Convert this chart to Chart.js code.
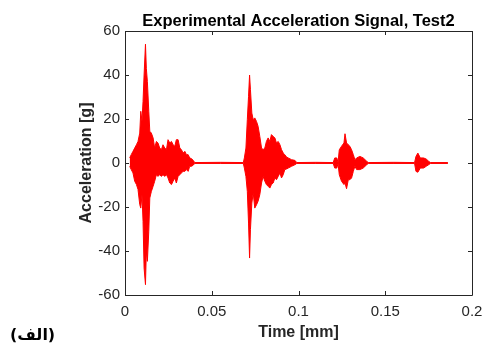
<!DOCTYPE html>
<html>
<head>
<meta charset="utf-8">
<script src="https://cdn.jsdelivr.net/npm/chart.js@4/dist/chart.umd.min.js"></script>
<style>
    html, body { margin: 0; padding: 0; background: #fff; }
    #wrap { position: relative; width: 485px; height: 343px; }
    #panel-label {
        position: absolute; left: 10px; top: 325px;
        font: bold 16px "DejaVu Sans", sans-serif; color: #000;
    }
</style>
</head>
<body>
<div id="wrap">
    <canvas id="chart-canvas" width="485" height="343"></canvas>
    <div id="panel-label">(الف)</div>
</div>
<script>
const sampleTimes = [
    0.0027, 0.0036, 0.0046, 0.0056, 0.0066, 0.0075, 0.0085, 0.0091, 0.0098, 0.0104,
    0.0110, 0.0118, 0.0123, 0.0129, 0.0137, 0.0143, 0.0152, 0.0162, 0.0171, 0.0181,
    0.0190, 0.0200, 0.0210, 0.0219, 0.0229, 0.0239, 0.0248, 0.0258, 0.0268, 0.0277,
    0.0287, 0.0296, 0.0306, 0.0316, 0.0325, 0.0335, 0.0345, 0.0354, 0.0364, 0.0373,
    0.0383, 0.0393, 0.0402, 0.0550, 0.0682,
    0.0688, 0.0697, 0.0705, 0.0712, 0.0718, 0.0723, 0.0731, 0.0739, 0.0748, 0.0758,
    0.0767, 0.0777, 0.0787, 0.0796, 0.0806, 0.0815, 0.0825, 0.0835, 0.0844, 0.0854,
    0.0864, 0.0873, 0.0883, 0.0893, 0.0902, 0.0912, 0.0921, 0.0931, 0.0941, 0.0960,
    0.0979, 0.0990, 0.1100, 0.1200,
    0.1209, 0.1221, 0.1228, 0.1235, 0.1248, 0.1262, 0.1268, 0.1277, 0.1287, 0.1296,
    0.1306, 0.1316, 0.1325, 0.1335, 0.1354, 0.1373, 0.1393, 0.1402, 0.1550, 0.1669,
    0.1677, 0.1688, 0.1702, 0.1721, 0.1736, 0.1750, 0.1760, 0.1861
]
const upperEnvelope = [
    2.3, 3.8, 5.3, 6.8, 8.3, 9.8, 13.6, 23.5, 19, 28,
    40, 54, 43, 37, 23.5, 14.4, 13.6, 11.4, 6.8, 9.8,
    9.1, 6.8, 6.1, 8.3, 6.8, 6.1, 10.6, 9.1, 9.8, 8.3,
    7.6, 10.6, 10.6, 6.8, 6.1, 4.5, 5.3, 3.8, 3.8, 2.3,
    2, 1.2, 0.2, 0.3, 0.2,
    2.3, 6.8, 19.7, 30.3, 40, 33.3, 22.7, 19.7, 20.5, 18.9,
    16.7, 12.1, 6.8, 6.1, 6.8, 9.8, 11.4, 9.8, 12.9, 12.1,
    11.4, 9.1, 9.8, 8.3, 6.1, 4.5, 3.8, 2.7, 2.3, 1.5,
    1.2, 0.2, 0.3, 0.2,
    2.3, 2.3, 0.2, 6, 7.6, 9.1, 13.3, 9.1, 8.3, 7.6,
    6, 3.8, 1.5, 2.3, 3, 2.3, 0.8, 0.2, 0.3, 0.2,
    3, 4.5, 2.3, 2.3, 1.8, 0.8, 0.2, 0.2
]
const lowerEnvelope = [
    -1.5, -3, -4.5, -8.3, -9.8, -12, -18.9, -20.5, -14.4, -26.5,
    -47.7, -55.3, -40, -44.7, -31, -15.9, -12.9, -10.6, -8.3, -5.3,
    -6.1, -5.3, -6.1, -5.3, -6.1, -5.3, -6.8, -9.1, -9.8, -8.3,
    -6.8, -9.1, -6.1, -5.3, -4.5, -3.8, -3.8, -3, -3.8, -1.5,
    -1.5, -1, -0.2, -0.2, -0.2,
    -2.3, -6.1, -12.9, -27.3, -43.2, -30.3, -18.2, -13.6, -20.5, -19,
    -17.4, -14.4, -9.1, -6.1, -8.3, -9.8, -10.6, -11.4, -9.8, -9.1,
    -6.8, -7.6, -6.1, -4.5, -6.8, -5.3, -3, -2.7, -2.3, -1.5,
    -0.8, -0.2, -0.2, -0.2,
    -2.3, -2.3, -0.2, -5.3, -8.3, -9.8, -9.1, -11.7, -7.6, -7.6,
    -6.8, -3.8, -1.5, -3, -3, -2.3, -0.8, -0.2, -0.2, -0.2,
    -3.8, -4.2, -2.3, -2.3, -1.5, -0.8, -0.2, -0.2
]
const xTickStep = 0.05
const yTickStep = 20

const axisColor = '#262626'
const fontFamily = '"Liberation Sans", Arial, sans-serif'

// MATLAB style box with ticks pointing inwards on all four sides
const boxTicks = {
    id: 'boxTicks',
    afterDraw(chart) {
        const { ctx, chartArea: a, scales: { x, y } } = chart
        const len = 4
        ctx.save()
        ctx.strokeStyle = axisColor
        ctx.lineWidth = 1
        ctx.beginPath()
        ctx.rect(Math.round(a.left) + 0.5, Math.round(a.top) + 0.5,
            Math.round(a.right - a.left), Math.round(a.bottom - a.top))
        x.ticks.forEach((t, i) => {
            const px = Math.round(x.getPixelForTick(i)) + 0.5
            ctx.moveTo(px, a.bottom)
            ctx.lineTo(px, a.bottom - len)
            ctx.moveTo(px, a.top)
            ctx.lineTo(px, a.top + len)
        })
        y.ticks.forEach((t, i) => {
            const py = Math.round(y.getPixelForTick(i)) + 0.5
            ctx.moveTo(a.left, py)
            ctx.lineTo(a.left + len, py)
            ctx.moveTo(a.right, py)
            ctx.lineTo(a.right - len, py)
        })
        ctx.stroke()
        ctx.restore()
    }
}

const upperData = sampleTimes.map((t, i) => ({ x: t, y: upperEnvelope[i] }))
const lowerData = sampleTimes.map((t, i) => ({ x: t, y: lowerEnvelope[i] }))

new Chart(document.getElementById('chart-canvas'), {
    type: 'line',
    data: {
        datasets: [
            {
                data: upperData,
                borderColor: '#ff0000',
                backgroundColor: '#ff0000',
                borderWidth: 1,
                pointRadius: 0,
                tension: 0,
                fill: '+1'
            },
            {
                data: lowerData,
                borderColor: '#ff0000',
                borderWidth: 1,
                pointRadius: 0,
                tension: 0,
                fill: false
            }
        ]
    },
    options: {
        responsive: false,
        animation: false,
        layout: { padding: { top: 0, right: 13, bottom: 0, left: 0 } },
        plugins: {
            legend: { display: false },
            tooltip: { enabled: false }
        },
        scales: {
            x: {
                type: 'linear',
                min: 0,
                max: 0.2,
                grid: { display: false, drawTicks: false },
                border: { display: false },
                ticks: {
                    stepSize: xTickStep,
                    maxRotation: 0,
                    padding: 8,
                    color: axisColor,
                    font: { family: fontFamily, size: 15 },
                    callback: value => String(+value.toFixed(2))
                },
                title: {
                    display: true,
                    text: 'Time [mm]',
                    color: axisColor,
                    font: { family: fontFamily, size: 16, weight: 'bold' },
                    padding: { top: 0, bottom: 0.5 }
                },
                afterFit: scale => {
                    scale.height = 48
                    scale.paddingLeft = 0
                    scale.paddingRight = 0
                }
            },
            // top axis only carries the plot title, centred over the axes box like MATLAB
            xTop: {
                type: 'linear',
                position: 'top',
                min: 0,
                max: 0.2,
                grid: { display: false, drawTicks: false },
                border: { display: false },
                ticks: { display: false },
                title: {
                    display: true,
                    text: 'Experimental Acceleration Signal, Test2',
                    color: '#000',
                    font: { family: fontFamily, size: 16.5, weight: 'bold' },
                    padding: { top: 11.1, bottom: 0 }
                },
                afterFit: scale => {
                    scale.height = 31
                    scale.paddingLeft = 0
                    scale.paddingRight = 0
                }
            },
            y: {
                min: -60,
                max: 60,
                grid: { display: false, drawTicks: false },
                border: { display: false },
                ticks: {
                    stepSize: yTickStep,
                    padding: 5,
                    color: axisColor,
                    font: { family: fontFamily, size: 15 }
                },
                title: {
                    display: true,
                    text: 'Acceleration [g]',
                    color: axisColor,
                    font: { family: fontFamily, size: 16, weight: 'bold' },
                    padding: { top: 77.4, bottom: 0 }
                },
                afterFit: scale => {
                    scale.width = 125
                    scale.paddingTop = 0
                    scale.paddingBottom = 0
                }
            }
        }
    },
    plugins: [boxTicks]
})
</script>
</body>
</html>
